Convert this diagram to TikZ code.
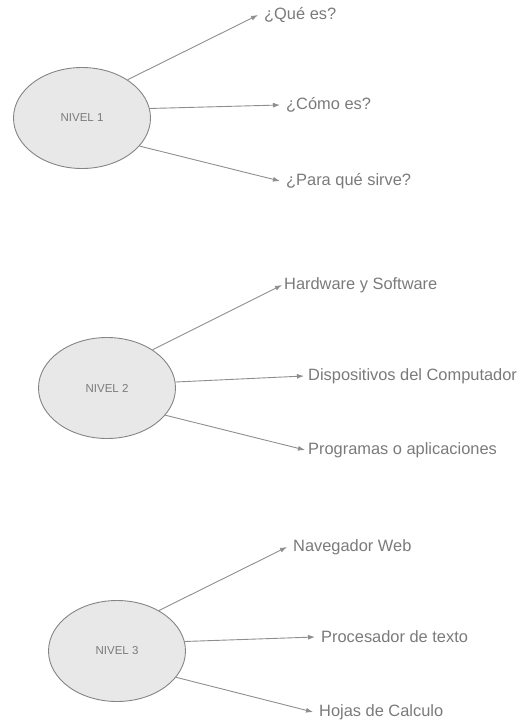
\documentclass[tikz,border=0pt]{standalone}
\usepackage{fontspec}
\setmainfont{Liberation Sans}
\usepackage{tikz}
\usetikzlibrary{arrows.meta,shapes.geometric}
\definecolor{linegray}{HTML}{8E8E8E}
\definecolor{edgegray}{HTML}{858585}
\definecolor{fillgray}{HTML}{E8E8E8}
\definecolor{textgray}{HTML}{7A7A7A}
\begin{document}
\begin{tikzpicture}[x=1pt, y=-1pt, >={Latex[length=7pt,width=5pt]},
  level/.style={draw=edgegray, line width=0.9pt, fill=fillgray, ellipse, minimum width=137pt, minimum height=101pt, inner sep=0pt, font=\fontsize{11.5}{13}\selectfont, text=textgray},
  leaf/.style={anchor=west, inner xsep=6pt, inner ysep=0pt, font=\fontsize{16.4}{19}\selectfont, text=textgray},
  link/.style={->, draw=linegray, line width=0.9pt}]
\useasboundingbox (0,0) rectangle (523,721);
% nivel 1
\node[level] (n1) at (82,118) {NIVEL 1};
\node[leaf] (q1) at (258,15) {¿Qué es?};
\node[leaf] (q2) at (280,105) {¿Cómo es?};
\node[leaf] (q3) at (280,181) {¿Para qué sirve?};
\draw[link] (n1.40) -- (q1.west);
\draw[link] (n1.8) -- (q2.west);
\draw[link] (n1.-26) -- (q3.west);
% nivel 2
\node[level] (n2) at (107,388) {NIVEL 2};
\node[leaf, inner xsep=2pt] (h1) at (282,285) {Hardware y Software};
\node[leaf, inner xsep=4pt] (h2) at (304,376) {Dispositivos del Computador};
\node[leaf, inner xsep=3pt] (h3) at (305,450) {Programas o aplicaciones};
\draw[link] (n2.40) -- (h1.west);
\draw[link] (n2.5) -- (h2.west);
\draw[link] (n2.-25) -- (h3.west);
% nivel 3
\node[level] (n3) at (117,651) {NIVEL 3};
\node[leaf] (p1) at (287,547) {Navegador Web};
\node[leaf] (p2) at (315,637) {Procesador de texto};
\node[leaf] (p3) at (313,712) {Hojas de Calculo};
\draw[link] (n3.44) -- (p1.west);
\draw[link] (n3.8) -- (p2.west);
\draw[link] (n3.-24) -- (p3.west);
\end{tikzpicture}
\end{document}
